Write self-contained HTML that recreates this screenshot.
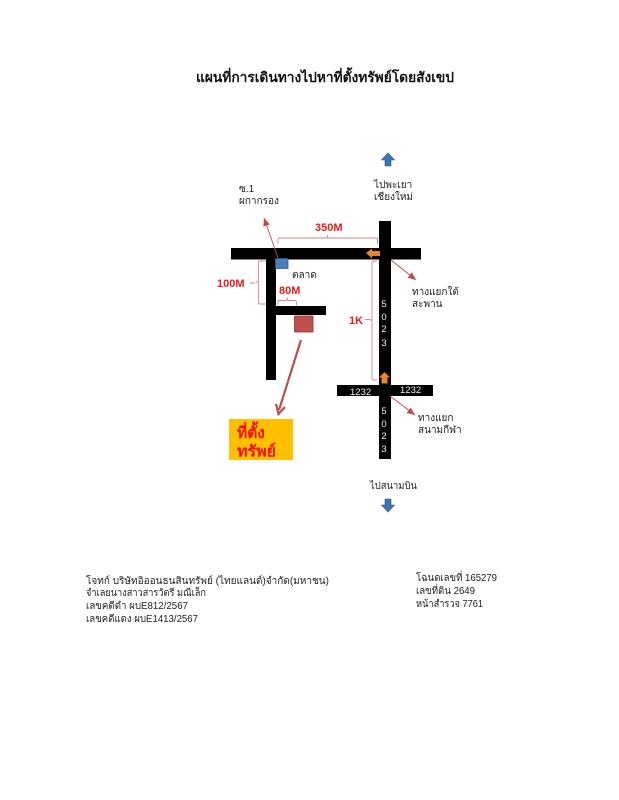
<!DOCTYPE html>
<html><head><meta charset="utf-8"><style>
html,body{margin:0;padding:0;background:#fff;width:619px;height:800px;overflow:hidden}
svg{display:block;filter:blur(.35px)}
text{font-family:"Liberation Sans","Noto Sans CJK SC","DejaVu Sans",sans-serif}
.t{font-size:10px;fill:#222}
.r{font-size:11px;font-weight:bold;fill:#e02020}
.w{font-size:9.500px;fill:#eee}
</style></head><body>
<svg width="619" height="800" viewBox="0 0 619 800" xmlns="http://www.w3.org/2000/svg">
<defs><marker id="a" markerUnits="userSpaceOnUse" markerWidth="9" markerHeight="8" refX="8" refY="3.500" orient="auto"><path d="M0 0L8 3.500L0 7Z" fill="#b5504e"/></marker></defs>
<text x="196" y="82" textLength="258" lengthAdjust="spacingAndGlyphs" font-size="13.800" font-weight="bold" fill="#111">แผนที่การเดินทางไปหาที่ตั้งทรัพย์โดยสังเขป</text>

<path d="M388 153l6.500 7h-3.500v6h-6v-6h-3.500z" fill="#3f74ad" stroke="#2f5b8c" stroke-width=".6"/>
<path d="M388 512l6.500-7h-3.500v-6h-6v6h-3.500z" fill="#3f74ad" stroke="#2f5b8c" stroke-width=".6"/>

<rect x="231" y="248" width="190" height="11.500" fill="#000"/>
<rect x="379" y="221" width="12" height="238" fill="#000"/>
<rect x="266" y="248" width="10" height="132" fill="#000"/>
<rect x="266" y="306" width="60" height="9" fill="#000"/>
<rect x="337" y="385" width="96" height="11" fill="#000"/>

<rect x="275.500" y="258.500" width="12.500" height="10" fill="#4a7ebb" stroke="#2f5b8c" stroke-width=".8"/>
<rect x="294.500" y="316" width="18.500" height="16" fill="#c0504d" stroke="#8c3836" stroke-width=".8"/>
<rect x="229" y="419" width="64" height="41" fill="#ffc000"/>
<text x="237" y="438" font-size="15.500" font-weight="bold" fill="#f01010">ที่ตั้ง</text>
<text x="237" y="456.500" textLength="39" lengthAdjust="spacingAndGlyphs" font-size="15.500" font-weight="bold" fill="#f01010">ทรัพย์</text>

<path d="M366 253l6-4.500v2.500h8v5h-8v2.500z" fill="#e8842c"/>
<path d="M384.500 372l5.500 5.500h-2.500v6h-6v-6h-2.500z" fill="#e8842c"/>

<g fill="none" stroke="#c78c8b" stroke-width=".9">
<path d="M278 244v-4q0-2 2-2h46q1.500 0 1.500-1.500v-1.500v1.500q0 1.500 1.500 1.500h47q1.500 0 1.500 2v4"/>
<path d="M265 261h-5q-1.500 0-1.500 1.500v18q0 1.500-1.500 1.500h-1h1q1.500 0 1.500 1.500v19q0 1.500 1.500 1.500h6"/>
<path d="M278 305v-3q0-1.500 1.500-1.500h6q2 0 2-2v-1v1q0 2 2 2h5q2 0 2 1.500v3.500"/>
<path d="M377 261h-3q-2 0-2 1.500v56q0 1.500-1.500 1.500h-1h1q1.500 0 1.500 1.500v56q0 2.500 2 2.500h3"/>
</g>
<path d="M250 283h5M365 319.500h5" stroke="#c78c8b" stroke-width=".9"/>

<g stroke="#b5504e" stroke-width=".9" fill="none" marker-end="url(#a)">
<path d="M278 258L264 218"/>
<path d="M391 260L416 280"/>
<path d="M390 396L415 415"/>
</g>
<path d="M301 340L279 410" stroke="#b5504e" stroke-width="2.200" fill="none"/>
<path d="M276 404L278.500 414L285 407" stroke="#b5504e" stroke-width="2.200" fill="none"/>

<text x="315" y="231" class="r">350M</text>
<text x="217" y="287" class="r">100M</text>
<text x="279" y="294" class="r">80M</text>
<text x="349" y="324" class="r">1K</text>

<text x="239" y="192" class="t">ซ.1</text>
<text x="239" y="204" class="t">ผกากรอง</text>
<text x="374" y="188" class="t">ไปพะเยา</text>
<text x="374" y="200" class="t">เชียงใหม่</text>
<text x="292" y="278" class="t">ตลาด</text>
<text x="412" y="295" class="t">ทางแยกใต้</text>
<text x="412" y="307" class="t">สะพาน</text>
<text x="418" y="421" class="t">ทางแยก</text>
<text x="418" y="433" class="t">สนามกีฬา</text>
<text x="370" y="489" textLength="47" lengthAdjust="spacingAndGlyphs" class="t">ไปสนามบิน</text>

<g text-anchor="middle">
<text x="384" y="307" class="w">5</text><text x="384" y="320" class="w">0</text><text x="384" y="332" class="w">2</text><text x="384" y="346" class="w">3</text>
<text x="384" y="414" class="w">5</text><text x="384" y="427" class="w">0</text><text x="384" y="439" class="w">2</text><text x="384" y="452" class="w">3</text>
</g>
<text x="350" y="395" class="w">1232</text>
<text x="400" y="393" class="w">1232</text>

<text x="86" y="584" textLength="243" lengthAdjust="spacingAndGlyphs" class="t">โจทก์ บริษัทอิออนธนสินทรัพย์ (ไทยแลนด์)จำกัด(มหาชน)</text>
<text x="86" y="596" textLength="120" lengthAdjust="spacingAndGlyphs" class="t">จำเลยนางสาวสารวัตรี มณีเล็ก</text>
<text x="86" y="609" textLength="102" lengthAdjust="spacingAndGlyphs" class="t">เลขคดีดำ ผบE812/2567</text>
<text x="86" y="622" textLength="112" lengthAdjust="spacingAndGlyphs" class="t">เลขคดีแดง ผบE1413/2567</text>
<text x="416" y="581" textLength="81" lengthAdjust="spacingAndGlyphs" class="t">โฉนดเลขที่ 165279</text>
<text x="416" y="594" textLength="59" lengthAdjust="spacingAndGlyphs" class="t">เลขที่ดิน 2649</text>
<text x="416" y="607" textLength="67" lengthAdjust="spacingAndGlyphs" class="t">หน้าสำรวจ 7761</text>
</svg>
</body></html>
